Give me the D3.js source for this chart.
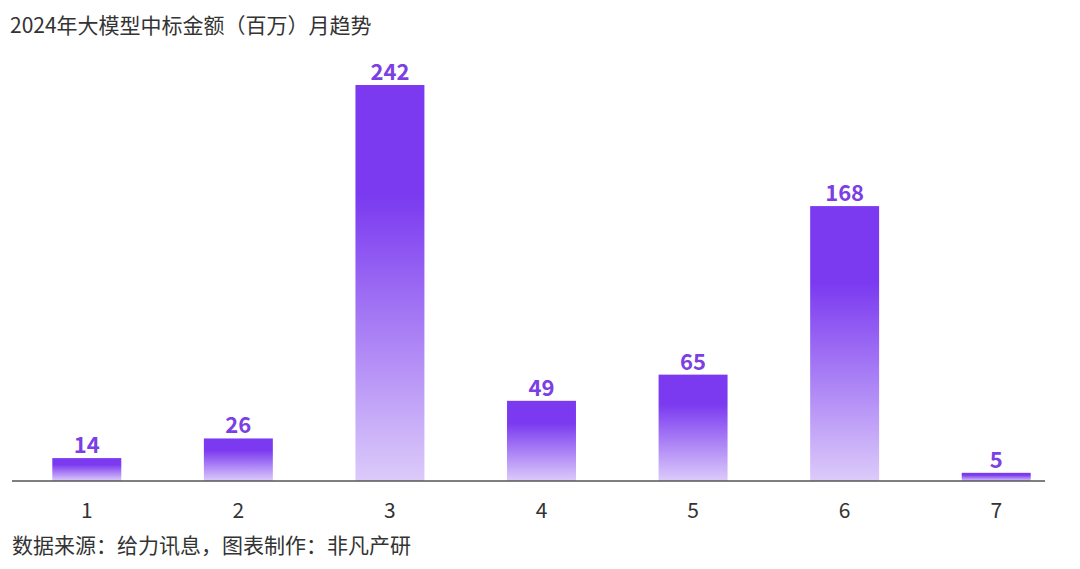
<!DOCTYPE html>
<html>
<head>
	<meta charset="utf-8">
	<title>bar</title>
	<script src="https://cdn.jsdelivr.net/npm/d3@7"></script>
	<style type="text/css">
		body{ margin: 0; background: #fff; }
		text{ font-family: "Noto Sans CJK SC", "Noto Sans", sans-serif; }
		.title, .source{ fill: #333; font-size: 21px; }
		.tick-label{ fill: #333; font-size: 21px; }
		.bar-value{ fill: #7b3fe4; font-size: 22px; font-weight: bold; }
	</style>
</head>
<body>
<svg width="1080" height="569"></svg>
<script type="text/javascript">
	var months = ["1", "2", "3", "4", "5", "6", "7"];
	var amounts = [14, 26, 242, 49, 65, 168, 5];
	var titleText = "2024年大模型中标金额（百万）月趋势";
	var sourceText = "数据来源：给力讯息，图表制作：非凡产研";

	var svg = d3.select("svg"),
		baseY = 481,
		topY = 85;

	var x = d3.scaleBand().domain(months).range([11, 1072]).paddingInner(0.545).paddingOuter(0.2725);
	var y = d3.scaleLinear().domain([0, d3.max(amounts)]).range([baseY, topY]);

	// 渐变：上深下浅
	var grad = svg.append("defs").append("linearGradient")
		.attr("id", "barGrad").attr("x1", 0).attr("y1", 0).attr("x2", 0).attr("y2", 1);
	grad.append("stop").attr("offset", "0%").attr("stop-color", "#7b3af0");
	grad.append("stop").attr("offset", "28%").attr("stop-color", "#7b3af0");
	grad.append("stop").attr("offset", "100%").attr("stop-color", "#dccbfa");

	svg.append("text").attr("class", "title").attr("x", 10).attr("y", 33).text(titleText);

	var data = months.map(function (m, i) { return {month: m, value: amounts[i]}; });

	svg.selectAll(".bar").data(data).enter().append("rect").attr("class", "bar")
		.attr("x", function (d) { return x(d.month); })
		.attr("y", function (d) { return y(d.value); })
		.attr("width", x.bandwidth())
		.attr("height", function (d) { return baseY - y(d.value); })
		.attr("fill", "url(#barGrad)");

	svg.selectAll(".bar-value").data(data).enter().append("text").attr("class", "bar-value")
		.attr("x", function (d) { return x(d.month) + x.bandwidth() / 2; })
		.attr("y", function (d) { return y(d.value) - 5; })
		.attr("text-anchor", "middle")
		.text(function (d) { return d.value; });

	// 横轴
	svg.append("line").attr("x1", 12).attr("x2", 1045).attr("y1", baseY).attr("y2", baseY)
		.attr("stroke", "#555").attr("stroke-width", 1.5);

	svg.selectAll(".tick-label").data(months).enter().append("text").attr("class", "tick-label")
		.attr("x", function (d) { return x(d) + x.bandwidth() / 2; })
		.attr("y", 518)
		.attr("text-anchor", "middle")
		.text(function (d) { return d; });

	svg.append("text").attr("class", "source").attr("x", 12).attr("y", 553).text(sourceText);
</script>
</body>
</html>
